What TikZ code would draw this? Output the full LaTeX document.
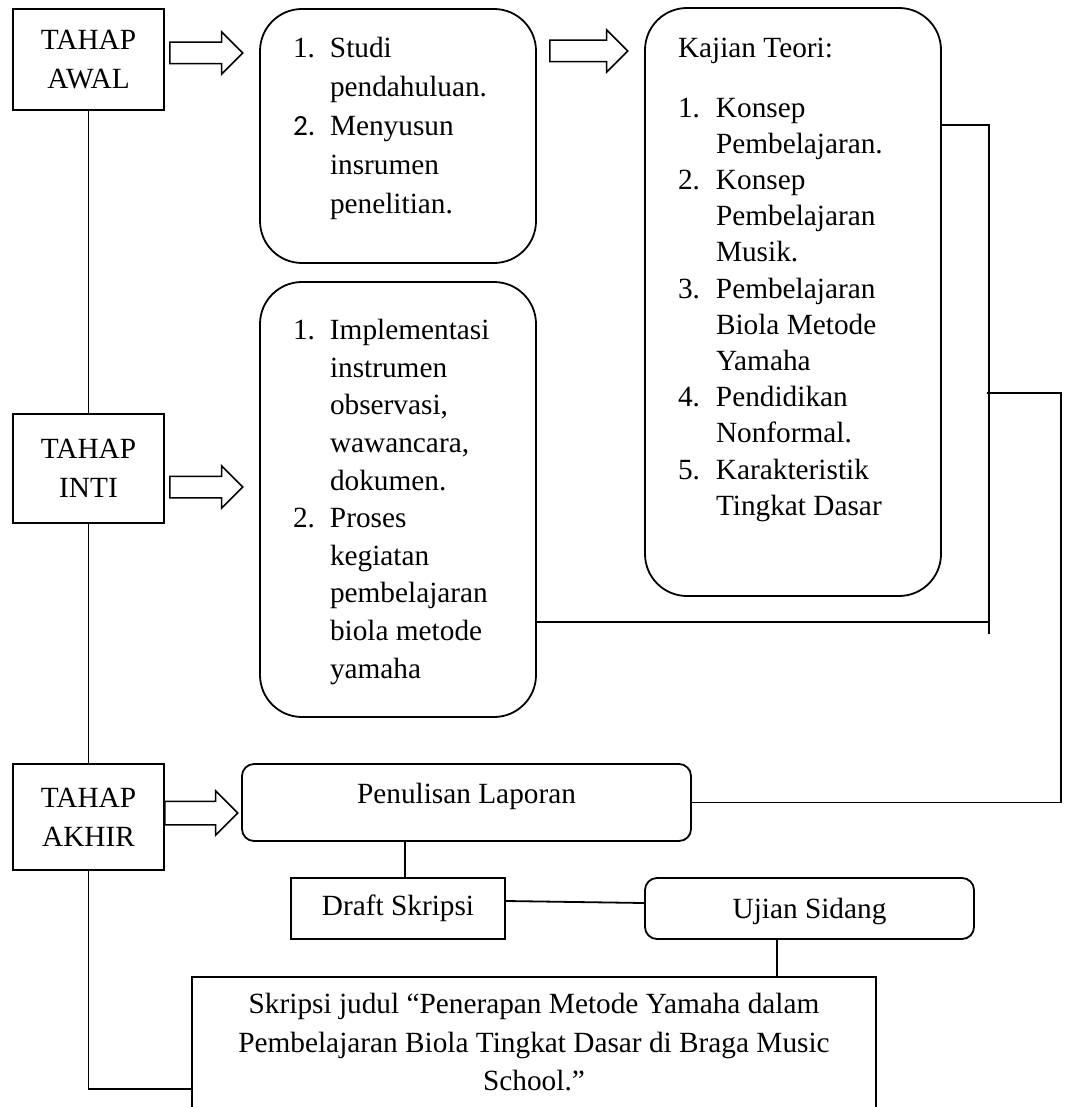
\documentclass[tikz,border=0pt]{standalone}
\usepackage{fontspec}
\setmainfont{Liberation Serif}
\newfontfamily\angkafont{Carlito}
\usetikzlibrary{positioning, shapes.arrows}

\newcommand{\isikotak}[4]{\parbox[c][#1][t]{#2}{\vspace*{#3}\hspace*{33pt}#4}}

\tikzset{
  tahapbox/.style={draw, minimum width=151pt, align=center, font=\fontsize{29.3}{39}\selectfont},
  isibox/.style={draw, rounded corners=42pt, inner sep=0pt},
  kecilbox/.style={draw, rounded corners=12pt},
  panah/.style={draw, line width=1.5pt, single arrow, single arrow head extend=10.5pt,
    inner xsep=0pt, inner ysep=10pt, minimum height=73pt, anchor=tail},
}

\begin{document}
\begin{tikzpicture}[x=1pt, y=-1pt, line width=1.8pt, font=\fontsize{29.3}{38}\selectfont]
\useasboundingbox (0,0) rectangle (1065,1107);

% tahap
\node[tahapbox, minimum height=101pt] (awal) at (88.5,59.5) {TAHAP\\AWAL};
\node[tahapbox, minimum height=109pt] (inti) at (88.5,468.5) {TAHAP\\INTI};
\node[tahapbox, minimum height=106pt] (akhir) at (88.5,817) {TAHAP\\AKHIR};

% panah blok
\node[panah] (panah1) at (169,53) {};
\node[panah, minimum height=78pt] (panah2) at (549,51) {};
\node[panah] (panah3) at (169,487) {};
\node[panah, inner ysep=11pt] (panah4) at (164,813) {};

% kotak isi
\node[isibox, font=\fontsize{29.3}{39}\selectfont] (studi) at (398,136)
  {\isikotak{254pt}{276pt}{21.7pt}{\begin{tabular}[t]{@{}p{37pt}@{}l@{}}
  1. & Studi\\ & pendahuluan.\\
  {\angkafont 2.} & Menyusun\\ & insrumen\\ & penelitian.
  \end{tabular}}};
\node[isibox, font=\fontsize{29.3}{36.2}\selectfont] (teori) at (793,302)
  {\isikotak{588pt}{296pt}{23.7pt}{\begin{tabular}[t]{@{}p{38pt}@{}l@{}}
  \multicolumn{2}{@{}l@{}}{Kajian Teori:}\\[23.8pt]
  1. & Konsep\\ & Pembelajaran.\\
  2. & Konsep\\ & Pembelajaran\\ & Musik.\\
  3. & Pembelajaran\\ & Biola Metode\\ & Yamaha\\
  4. & Pendidikan\\ & Nonformal.\\
  5. & Karakteristik\\ & Tingkat Dasar
  \end{tabular}}};
\node[isibox, font=\fontsize{29.3}{37.6}\selectfont] (proses) at (398,499.5)
  {\isikotak{435pt}{276pt}{31.4pt}{\begin{tabular}[t]{@{}p{37pt}@{}l@{}}
  1. & Implementasi\\ & instrumen\\ & observasi,\\ & wawancara,\\ & dokumen.\\
  2. & Proses\\ & kegiatan\\ & pembelajaran\\ & biola metode\\ & yamaha
  \end{tabular}}};

% tahap akhir
\node[kecilbox, minimum width=449pt, minimum height=77pt, text height=12pt, text depth=11pt]
  (laporan) at (466.5,802.5) {Penulisan Laporan};
\node[draw, minimum width=214pt, minimum height=61pt] (draft) at (398,908.5) {Draft Skripsi};
\node[kecilbox, minimum width=329pt, minimum height=61pt, text height=20pt, text depth=0pt]
  (ujian) at (809.5,908.5) {Ujian Sidang};
\node[draw, inner sep=0pt, anchor=north, font=\fontsize{29.3}{38.5}\selectfont] (skripsi) at (534,976)
  {\parbox[c][224pt][t]{684pt}{\centering\vspace*{10pt}\begin{tabular}[t]{@{}c@{}}
  Skripsi judul “Penerapan Metode Yamaha dalam\\
  Pembelajaran Biola Tingkat Dasar di Braga Music\\
  School.”
  \end{tabular}}};

% garis
\coordinate (sudut1) at (989,125);
\coordinate (ujung1) at (989,634);
\coordinate (sudut2) at (1061,393);
\coordinate (ujung2) at (987,393);

\draw (awal.south) -- (inti.north);
\draw (inti.south) -- (akhir.north);
\draw (akhir.south) |- (skripsi.west);
\draw (teori.east |- sudut1) -- (sudut1) -- (ujung1);
\draw (proses.east |- 0,622) -- (ujung1 |- 0,622);
\draw (laporan.east) -| (sudut2) -- (ujung2);
\draw (laporan.south -| 405,0) -- (draft.north -| 405,0);
\draw ([yshift=7.5pt]draft.east) -- ([yshift=5.5pt]ujian.west);
\draw (ujian.south -| 777,0) -- (skripsi.north -| 777,0);
\end{tikzpicture}
\end{document}
